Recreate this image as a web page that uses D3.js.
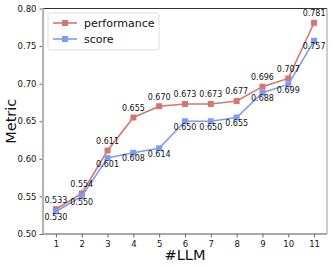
<!DOCTYPE html>
<html>
<head>
<meta charset="utf-8">
<script src="https://cdn.jsdelivr.net/npm/d3@7"></script>
<style>
  body { margin: 0; background: #fff; }
  text { font-family: "DejaVu Sans", sans-serif; }
</style>
</head>
<body>
<div id="chart"></div>
<script>
// data
let llmCounts = [1, 2, 3, 4, 5, 6, 7, 8, 9, 10, 11];
let performance = [0.533, 0.554, 0.611, 0.655, 0.670, 0.673, 0.673, 0.677, 0.696, 0.707, 0.781];
let score = [0.530, 0.550, 0.601, 0.608, 0.614, 0.650, 0.650, 0.655, 0.688, 0.699, 0.757];
let yTicks = [0.50, 0.55, 0.60, 0.65, 0.70, 0.75, 0.80];

let svgWidth = 333;
let svgHeight = 267;

let margin = { top: 8.5, right: 6, bottom: 33, left: 43 };
let width = svgWidth - margin.left - margin.right;
let height = svgHeight - margin.top - margin.bottom;

let perfColor = "#d4776f";
let scoreColor = "#7b9cf0";

let svg = d3.select("#chart")
    .append("svg")
    .attr("width", svgWidth)
    .attr("height", svgHeight);

let chartGroup = svg.append("g")
    .attr("transform", `translate(${margin.left}, ${margin.top})`);

let x = d3.scaleLinear().domain([0.5, 11.5]).range([0, width]);
let y = d3.scaleLinear().domain([0.5, 0.8]).range([height, 0]);

// axes
let xAxis = chartGroup.append("g")
    .attr("transform", `translate(0,${height})`)
    .call(d3.axisBottom(x).tickValues(llmCounts).tickSize(3.5).tickPadding(3).tickFormat(d3.format("d")));

let yAxis = chartGroup.append("g")
    .call(d3.axisLeft(y).tickValues(yTicks).tickSize(3.5).tickPadding(3).tickFormat(d3.format(".2f")));

[xAxis, yAxis].forEach(function(ax) {
    ax.select(".domain").remove();
    ax.selectAll(".tick line").attr("stroke", "#666");
    ax.selectAll(".tick text").attr("font-size", "8.5px").attr("fill", "#111");
});

// spines
chartGroup.append("line").attr("x1", 0).attr("x2", width).attr("y1", 0).attr("y2", 0)
    .attr("stroke", "#333").attr("stroke-width", 1);
chartGroup.append("line").attr("x1", 0).attr("x2", width).attr("y1", height).attr("y2", height)
    .attr("stroke", "#555").attr("stroke-width", 1);
chartGroup.append("line").attr("x1", width).attr("x2", width).attr("y1", 0).attr("y2", height)
    .attr("stroke", "#999").attr("stroke-width", 1);
chartGroup.append("line").attr("x1", 0).attr("x2", 0).attr("y1", 0).attr("y2", height)
    .attr("stroke", "#b5b5b5").attr("stroke-width", 2.2);

// series
let series = [
    { name: "performance", values: performance, color: perfColor, dy: -6.5 },
    { name: "score", values: score, color: scoreColor, dy: 8.5 }
];

let line = d3.line()
    .x((d, i) => x(llmCounts[i]))
    .y(d => y(d));

series.forEach(function(s) {
    chartGroup.append("path")
        .datum(s.values)
        .attr("fill", "none")
        .attr("stroke", s.color)
        .attr("stroke-width", 1.6)
        .attr("d", line);

    chartGroup.selectAll(null)
        .data(s.values)
        .enter()
        .append("rect")
        .attr("x", (d, i) => x(llmCounts[i]) - 3)
        .attr("y", d => y(d) - 3)
        .attr("width", 6)
        .attr("height", 6)
        .attr("fill", s.color);
});

series.forEach(function(s) {
    chartGroup.selectAll(null)
        .data(s.values)
        .enter()
        .append("text")
        .attr("x", (d, i) => x(llmCounts[i]))
        .attr("y", d => y(d) + s.dy)
        .attr("text-anchor", "middle")
        .attr("font-size", "8px")
        .attr("fill", "#111")
        .text(d => d3.format(".3f")(d));
});

// legend
let legend = chartGroup.append("g").attr("transform", "translate(5, 4.5)");
legend.append("rect")
    .attr("width", 111).attr("height", 37).attr("rx", 2)
    .attr("fill", "#fff").attr("fill-opacity", 0.8)
    .attr("stroke", "#ddd");

series.forEach(function(s, i) {
    let ly = 10 + i * 16;
    legend.append("line")
        .attr("x1", 5).attr("x2", 29).attr("y1", ly).attr("y2", ly)
        .attr("stroke", s.color).attr("stroke-width", 1.6);
    legend.append("rect")
        .attr("x", 14).attr("y", ly - 3).attr("width", 6).attr("height", 6)
        .attr("fill", s.color);
    legend.append("text")
        .attr("x", 36).attr("y", ly + 4)
        .attr("font-size", "11px")
        .attr("fill", "#111")
        .text(s.name);
});

// axis labels
svg.append("text")
    .attr("transform", `translate(16, ${margin.top + height / 2}) rotate(-90)`)
    .attr("text-anchor", "middle")
    .attr("font-size", "14.5px")
    .attr("fill", "#111")
    .text("Metric");

svg.append("text")
    .attr("x", margin.left + width / 2)
    .attr("y", 260)
    .attr("text-anchor", "middle")
    .attr("font-size", "14.5px")
    .attr("fill", "#111")
    .text("#LLM");
</script>
</body>
</html>
